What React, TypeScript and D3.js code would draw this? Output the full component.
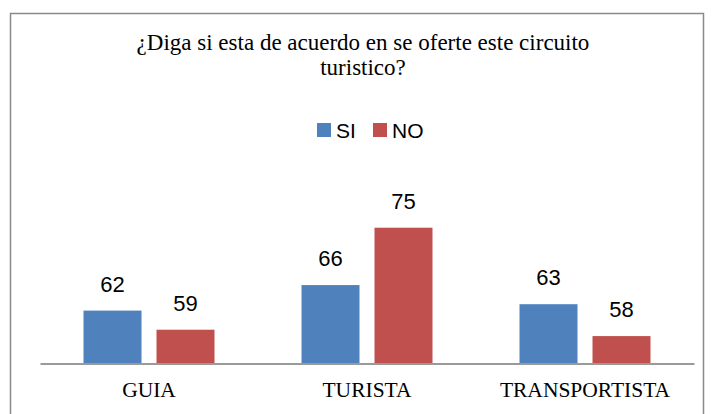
import React, { useRef, useEffect } from 'react';
import * as d3 from 'd3';

// chart data
const categories = ['GUIA', 'TURISTA', 'TRANSPORTISTA'];
const seriesNames = ['SI', 'NO'];
const siValues = [62, 66, 63];
const noValues = [59, 75, 58];
const titleLines = ['¿Diga si esta de acuerdo en se oferte este circuito', 'turistico?'];

const colors = { SI: '#4F81BD', NO: '#C0504D' };

export default function App() {
  const svgRef = useRef(null);

  useEffect(() => {
    if (!svgRef.current) return;
    const svg = d3.select(svgRef.current);
    svg.selectAll('*').remove();

    // outer frame
    svg.append('rect')
      .attr('x', 10.5)
      .attr('y', 13.5)
      .attr('width', 693)
      .attr('height', 420)
      .attr('fill', '#fff')
      .attr('stroke', '#8a8a8a')
      .attr('stroke-width', 1.5);

    // title
    const title = svg.append('text')
      .attr('text-anchor', 'middle')
      .attr('font-family', '"Liberation Serif", "Times New Roman", serif')
      .attr('font-size', '23px')
      .attr('fill', '#000');
    titleLines.forEach((line, i) => {
      title.append('tspan')
        .attr('x', 363)
        .attr('y', 50 + i * 25)
        .text(line);
    });

    // legend
    const legend = svg.append('g').attr('transform', 'translate(317, 123)');
    const legendX = [0, 56];
    seriesNames.forEach((name, i) => {
      const g = legend.append('g').attr('transform', `translate(${legendX[i]}, 0)`);
      g.append('rect')
        .attr('width', 14)
        .attr('height', 14)
        .attr('fill', colors[name]);
      g.append('text')
        .attr('x', 19)
        .attr('y', 14.5)
        .attr('font-family', '"Liberation Sans", Arial, sans-serif')
        .attr('font-size', '21px')
        .attr('fill', '#000')
        .text(name);
    });

    // scales
    const x0 = d3.scaleBand()
      .domain(categories)
      .range([40, 694]);

    const x1 = d3.scaleBand()
      .domain(seriesNames)
      .range([43.5, 174.5])
      .paddingInner(0.2055);

    const y = d3.scaleLinear()
      .domain([53.7, 75])
      .range([363.5, 227.7]);

    const rows = categories.map((c, i) => ({
      category: c,
      values: [
        { key: 'SI', value: siValues[i] },
        { key: 'NO', value: noValues[i] },
      ],
    }));

    const groups = svg.append('g')
      .selectAll('g')
      .data(rows)
      .join('g')
      .attr('transform', d => `translate(${x0(d.category)}, 0)`);

    groups.selectAll('rect')
      .data(d => d.values)
      .join('rect')
      .attr('x', d => x1(d.key))
      .attr('y', d => y(d.value))
      .attr('width', x1.bandwidth())
      .attr('height', d => y.range()[0] - y(d.value))
      .attr('fill', d => colors[d.key]);

    groups.selectAll('text.val')
      .data(d => d.values)
      .join('text')
      .attr('class', 'val')
      .attr('x', d => x1(d.key) + x1.bandwidth() / 2)
      .attr('y', d => y(d.value) - 19)
      .attr('text-anchor', 'middle')
      .attr('font-family', '"Liberation Sans", Arial, sans-serif')
      .attr('font-size', '22px')
      .attr('fill', '#000')
      .text(d => d.value);

    // x axis
    const xAxis = svg.append('g')
      .attr('transform', `translate(0, ${y.range()[0]})`)
      .call(d3.axisBottom(x0).tickSize(0).tickPadding(18));
    xAxis.select('.domain')
      .attr('stroke', '#9a9a9a')
      .attr('stroke-width', 1.8);
    xAxis.selectAll('text')
      .attr('font-family', '"Liberation Serif", "Times New Roman", serif')
      .attr('font-size', '21.5px')
      .attr('fill', '#000');
  }, []);

  return (
    <svg
      ref={svgRef}
      width={713}
      height={414}
      style={{ position: 'fixed', left: 0, top: 0, background: '#fff' }}
    />
  );
}
